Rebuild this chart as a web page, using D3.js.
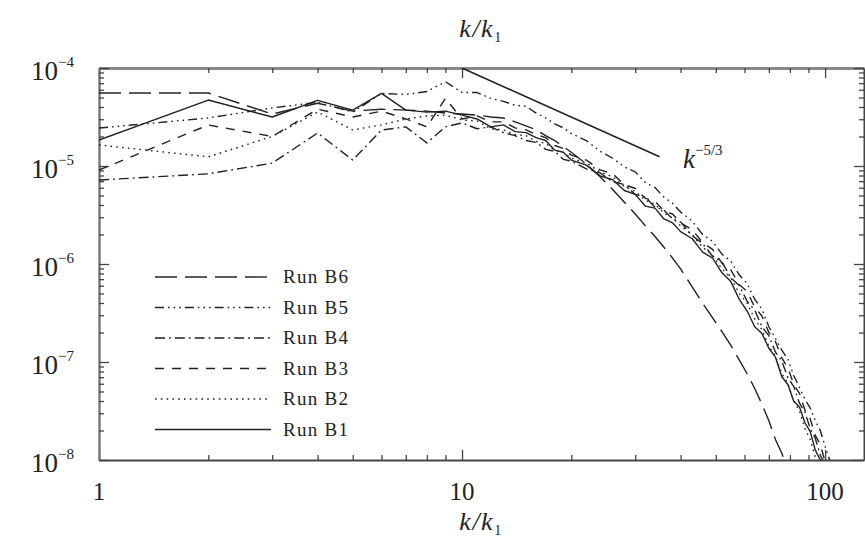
<!DOCTYPE html>
<html>
<head>
<meta charset="utf-8">
<script src="https://cdn.jsdelivr.net/npm/d3@7"></script>
<style>
  body { margin: 0; background: #fff; }
  text { font-family: "Liberation Serif", "DejaVu Serif", serif; fill: #222; }
</style>
</head>
<body>
<svg id="chart" width="865" height="545"></svg>
<script>
// Wavenumbers k/k1 at which each spectrum is sampled
const kValues = [1,2,3,4,5,6,7,8,9,10,11,12,13,14,15,16,17,18,19,20,
  22,24,26,28,30,32,34,36,38,40,43,46,49,52,55,58,61,64,67,70,73,76,79,82,85,88,91,94,97,100,104];

// Spectral energy of each run
const runB1 = [1.84e-5,4.71e-5,3.16e-5,4.68e-5,3.72e-5,5.50e-5,3.72e-5,3.55e-5,3.63e-5,3.31e-5,
  3.02e-5,2.51e-5,2.63e-5,2.24e-5,2.19e-5,1.95e-5,1.82e-5,1.45e-5,1.38e-5,1.15e-5,
  1.02e-5,7.94e-6,7.24e-6,5.62e-6,5.13e-6,3.89e-6,3.72e-6,2.88e-6,2.63e-6,2.14e-6,
  1.82e-6,1.32e-6,1.15e-6,8.13e-7,6.61e-7,4.37e-7,3.31e-7,2.29e-7,1.95e-7,1.38e-7,
  1.12e-7,7.08e-8,5.89e-8,3.98e-8,3.47e-8,2.40e-8,1.95e-8,1.26e-8,1.00e-8,6.31e-9,3.98e-9];
const runB2 = [1.64e-5,1.24e-5,2.00e-5,3.56e-5,2.33e-5,2.63e-5,3.02e-5,3.24e-5,3.31e-5,2.95e-5,
  2.88e-5,2.40e-5,2.34e-5,2.09e-5,2.04e-5,1.78e-5,1.70e-5,1.45e-5,1.38e-5,1.20e-5,
  1.07e-5,8.71e-6,7.76e-6,6.17e-6,5.50e-6,4.47e-6,4.07e-6,3.31e-6,2.95e-6,2.45e-6,
  2.00e-6,1.48e-6,1.23e-6,8.91e-7,7.24e-7,5.01e-7,3.98e-7,2.75e-7,2.14e-7,1.45e-7,
  1.15e-7,7.59e-8,6.03e-8,3.98e-8,3.16e-8,2.09e-8,1.62e-8,1.07e-8,8.32e-9,5.62e-9,3.55e-9];
const runB3 = [9.10e-6,2.62e-5,2.00e-5,3.80e-5,3.16e-5,3.63e-5,3.02e-5,2.51e-5,4.90e-5,3.02e-5,
  3.24e-5,2.82e-5,2.82e-5,2.45e-5,2.34e-5,2.09e-5,1.95e-5,1.62e-5,1.51e-5,1.29e-5,
  1.15e-5,9.12e-6,8.32e-6,6.46e-6,5.89e-6,4.68e-6,4.37e-6,3.47e-6,3.24e-6,2.63e-6,
  2.24e-6,1.66e-6,1.41e-6,1.02e-6,8.71e-7,6.17e-7,5.25e-7,3.63e-7,2.95e-7,2.00e-7,
  1.62e-7,1.10e-7,8.71e-8,5.89e-8,4.79e-8,3.24e-8,2.63e-8,1.78e-8,1.45e-8,9.55e-9,6.31e-9];
const runB4 = [7.19e-6,8.32e-6,1.07e-5,2.17e-5,1.15e-5,2.33e-5,2.51e-5,1.72e-5,2.51e-5,2.75e-5,
  2.40e-5,2.51e-5,2.19e-5,2.04e-5,1.82e-5,1.74e-5,1.48e-5,1.41e-5,1.17e-5,1.12e-5,
  9.33e-6,8.51e-6,6.92e-6,6.46e-6,5.13e-6,4.79e-6,3.80e-6,3.55e-6,2.88e-6,2.69e-6,
  1.95e-6,1.62e-6,1.20e-6,1.05e-6,7.24e-7,6.03e-7,4.17e-7,3.39e-7,2.29e-7,1.86e-7,
  1.26e-7,1.02e-7,6.92e-8,5.62e-8,3.80e-8,3.09e-8,2.09e-8,1.66e-8,1.12e-8,8.91e-9,5.62e-9];
const runB5 = [2.44e-5,3.09e-5,3.91e-5,4.47e-5,3.55e-5,5.50e-5,5.37e-5,5.75e-5,7.24e-5,5.62e-5,
  5.62e-5,4.90e-5,4.57e-5,4.17e-5,4.07e-5,3.47e-5,3.09e-5,2.69e-5,2.45e-5,2.14e-5,
  1.82e-5,1.41e-5,1.20e-5,9.77e-6,8.71e-6,6.76e-6,6.03e-6,4.79e-6,4.17e-6,3.39e-6,
  2.75e-6,2.00e-6,1.70e-6,1.26e-6,1.07e-6,7.76e-7,6.31e-7,4.37e-7,3.47e-7,2.29e-7,
  1.74e-7,1.32e-7,1.07e-7,7.24e-8,5.50e-8,4.17e-8,3.39e-8,2.51e-8,2.00e-8,1.38e-8,8.91e-9];
const runB6 = [5.56e-5,5.56e-5,3.39e-5,4.37e-5,3.63e-5,3.80e-5,3.72e-5,3.63e-5,3.47e-5,3.39e-5,
  3.31e-5,3.16e-5,3.09e-5,2.82e-5,2.57e-5,2.34e-5,2.04e-5,1.82e-5,1.58e-5,1.38e-5,
  1.05e-5,7.76e-6,5.75e-6,4.27e-6,3.24e-6,2.45e-6,1.91e-6,1.48e-6,1.15e-6,8.91e-7,
  5.89e-7,3.98e-7,2.82e-7,2.04e-7,1.48e-7,1.05e-7,7.59e-8,5.37e-8,3.72e-8,2.51e-8,
  1.62e-8,1.17e-8,7.94e-9,null,null,null,null,null,null,null,null];

// Legend order, top to bottom
const runNames = ["Run B6", "Run B5", "Run B4", "Run B3", "Run B2", "Run B1"];
const runSeries = [runB6, runB5, runB4, runB3, runB2, runB1];

// Axis ticks
const yTickExponents = [-4, -5, -6, -7, -8];
const xTickValues = [1, 10, 100];
const xTickLabels = ["1", "10", "100"];

// Kolmogorov reference slope k^(-5/3), endpoints
const slopeLine = [[10, 1.0e-4], [35, 1.24e-5]];
const slopeLabel = { base: "k", exponent: "\u22125/3" };
const axisTitle = "k/k";

// Line style per run
const dashStyles = {
  "Run B6": "22,8",
  "Run B5": "9,4,1.6,4,1.6,4,1.6,4",
  "Run B4": "10,4,1.8,4",
  "Run B3": "9,8",
  "Run B2": "1.6,4.2",
  "Run B1": null
};

const svg = d3.select("#chart");
const W = 865, H = 545;
const plot = { left: 99, right: 864, top: 68, bottom: 460 };

svg.append("rect").attr("width", W).attr("height", H).attr("fill", "#fff");

const x = d3.scaleLog().domain([1, 128]).range([plot.left, plot.right]);
const y = d3.scaleLog().domain([1e-8, 1e-4]).range([plot.bottom, plot.top]);

// Minor tick positions
const xMinor = [];
for (let d = 1; d <= 100; d *= 10) for (let m = 2; m <= 9; m++) if (d * m <= 128) xMinor.push(d * m);
const yMinor = [];
for (let e = -8; e < -4; e++) for (let m = 2; m <= 9; m++) yMinor.push(m * Math.pow(10, e));
const yMajor = yTickExponents.map(e => Math.pow(10, e));

const axisColor = "#444";
function styleAxis(g, width) {
  g.select(".domain").attr("stroke", axisColor).attr("stroke-width", width);
  g.selectAll(".tick line").attr("stroke", axisColor).attr("stroke-width", 1.3);
  g.selectAll(".tick text").remove();
}

// Bottom axis (ticks inward)
const gB = svg.append("g").attr("transform", `translate(0,${plot.bottom})`);
gB.call(d3.axisBottom(x).tickValues(xTickValues).tickSize(-10).tickSizeOuter(0).tickFormat(""));
styleAxis(gB, 2.2);
const gBm = svg.append("g").attr("transform", `translate(0,${plot.bottom})`);
gBm.call(d3.axisBottom(x).tickValues(xMinor).tickSize(-5).tickSizeOuter(0).tickFormat(""));
styleAxis(gBm, 0);

// Top axis
const gT = svg.append("g").attr("transform", `translate(0,${plot.top})`);
gT.call(d3.axisTop(x).tickValues(xTickValues).tickSize(-10).tickSizeOuter(0).tickFormat(""));
styleAxis(gT, 3);
gT.select(".domain").attr("stroke", "#888");
const gTm = svg.append("g").attr("transform", `translate(0,${plot.top})`);
gTm.call(d3.axisTop(x).tickValues(xMinor).tickSize(-5).tickSizeOuter(0).tickFormat(""));
styleAxis(gTm, 0);

// Left axis
const gL = svg.append("g").attr("transform", `translate(${plot.left},0)`);
gL.call(d3.axisLeft(y).tickValues(yMajor).tickSize(-10).tickSizeOuter(0).tickFormat(""));
styleAxis(gL, 2.4);
gL.select(".domain").attr("stroke", "#777");
const gLm = svg.append("g").attr("transform", `translate(${plot.left},0)`);
gLm.call(d3.axisLeft(y).tickValues(yMinor).tickSize(-5).tickSizeOuter(0).tickFormat(""));
styleAxis(gLm, 0);

// Right axis
const gR = svg.append("g").attr("transform", `translate(${plot.right},0)`);
gR.call(d3.axisRight(y).tickValues(yMajor).tickSize(-10).tickSizeOuter(0).tickFormat(""));
styleAxis(gR, 2);
const gRm = svg.append("g").attr("transform", `translate(${plot.right},0)`);
gRm.call(d3.axisRight(y).tickValues(yMinor).tickSize(-5).tickSizeOuter(0).tickFormat(""));
styleAxis(gRm, 0);

// Y tick labels 10^n
yTickExponents.forEach(e => {
  const t = svg.append("text")
    .attr("x", 74).attr("y", y(Math.pow(10, e)) + 12)
    .attr("text-anchor", "end").attr("font-size", 27);
  t.append("tspan").text("10");
  t.append("tspan").attr("dy", -13).attr("font-size", 15).text("\u2212" + Math.abs(e));
});

// X tick labels
xTickValues.forEach((v, i) => {
  svg.append("text").attr("x", x(v)).attr("y", 500)
    .attr("text-anchor", "middle").attr("font-size", 25).text(xTickLabels[i]);
});

// Axis titles k/k1 (top and bottom)
function drawTitle(cy) {
  const t = svg.append("text").attr("x", 481).attr("y", cy)
    .attr("text-anchor", "middle").attr("font-size", 26).attr("font-style", "italic")
    .attr("letter-spacing", 1.5);
  t.append("tspan").text(axisTitle);
  t.append("tspan").attr("dy", 5).attr("font-size", 14).attr("font-style", "normal").text("1");
}
drawTitle(37);
drawTitle(530);

// Data lines clipped to the frame
svg.append("clipPath").attr("id", "plotClip").append("rect")
  .attr("x", plot.left).attr("y", plot.top)
  .attr("width", plot.right - plot.left).attr("height", plot.bottom - plot.top);

const line = d3.line()
  .defined(d => d[1] != null)
  .x(d => x(d[0]))
  .y(d => y(d[1]));

const gData = svg.append("g").attr("clip-path", "url(#plotClip)");
runNames.forEach((name, i) => {
  const pts = kValues.map((k, j) => [k, runSeries[i][j]]);
  gData.append("path")
    .attr("d", line(pts))
    .attr("fill", "none")
    .attr("stroke", "#222")
    .attr("stroke-width", 1.4)
    .attr("stroke-dasharray", dashStyles[name])
    .attr("stroke-linejoin", "round");
});

// Reference slope line and label
gData.append("path")
  .attr("d", line(slopeLine))
  .attr("fill", "none").attr("stroke", "#222").attr("stroke-width", 1.6);
const sl = svg.append("text").attr("x", 683).attr("y", 168).attr("font-size", 27);
sl.append("tspan").attr("font-style", "italic").text(slopeLabel.base);
sl.append("tspan").attr("dy", -13).attr("font-size", 15).text(slopeLabel.exponent);

// Legend
runNames.forEach((name, i) => {
  const ly = 277 + i * 30.5;
  svg.append("line")
    .attr("x1", 155).attr("x2", 271).attr("y1", ly).attr("y2", ly)
    .attr("stroke", "#222").attr("stroke-width", 1.4)
    .attr("stroke-dasharray", dashStyles[name]);
  svg.append("text").attr("x", 283).attr("y", ly + 6)
    .attr("font-size", 19).attr("letter-spacing", 1.3).text(name);
});
</script>
</body>
</html>
